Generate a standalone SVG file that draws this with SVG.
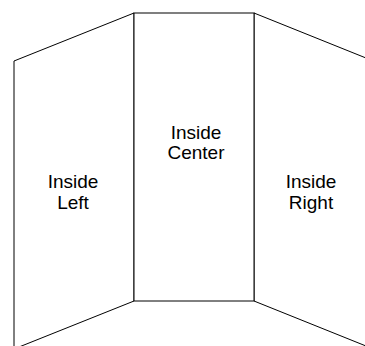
<svg xmlns="http://www.w3.org/2000/svg" width="365" height="346" viewBox="0 0 365 346">
<style>
.panel{fill:#fff;stroke:#000;stroke-width:1}
.lbl{font-family:"Liberation Sans",Arial,sans-serif;font-size:19px;fill:#000;text-anchor:middle}
</style>
<rect width="365" height="346" fill="#fff"/>
<g id="left">
<polygon class="panel" points="14,61 134,13 134,301 14,349"/>
<text class="lbl" x="73" y="188">Inside</text>
<text class="lbl" x="73" y="209">Left</text>
</g>
<g id="right">
<polygon class="panel" points="254,13 366,58 366,346 254,301"/>
<text class="lbl" x="311" y="188">Inside</text>
<text class="lbl" x="311" y="209">Right</text>
</g>
<g id="center">
<rect class="panel" x="134" y="13" width="120" height="288"/>
<text class="lbl" x="196" y="139">Inside</text>
<text class="lbl" x="196" y="159">Center</text>
</g>
<g id="connectors"></g>
</svg>
